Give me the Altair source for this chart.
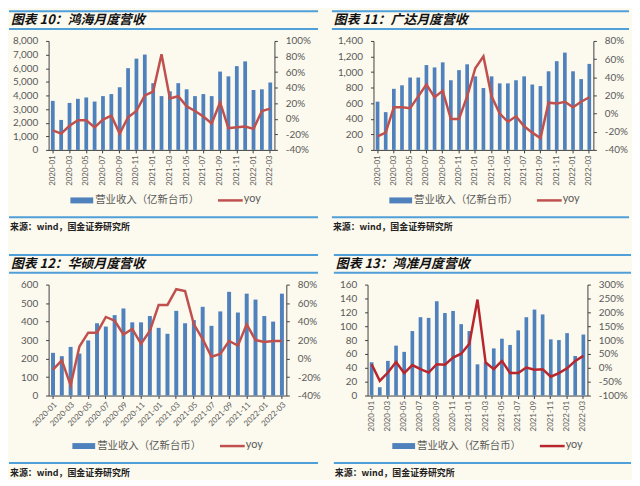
import altair as alt
import pandas as pd

months = ["2020-01", "2020-02", "2020-03", "2020-04", "2020-05", "2020-06", "2020-07",
          "2020-08", "2020-09", "2020-10", "2020-11", "2020-12", "2021-01", "2021-02",
          "2021-03", "2021-04", "2021-05", "2021-06", "2021-07", "2021-08", "2021-09",
          "2021-10", "2021-11", "2021-12", "2022-01", "2022-02", "2022-03"]
tick_months = ["2020-01", "2020-03", "2020-05", "2020-07", "2020-09", "2020-11", "2021-01",
               "2021-03", "2021-05", "2021-07", "2021-09", "2021-11", "2022-01", "2022-03"]

titles = ["图表 10：鸿海月度营收", "图表 11：广达月度营收", "图表 12：华硕月度营收", "图表 13：鸿准月度营收"]
legend_rev = "营业收入（亿新台币）"
legend_yoy = "yoy"
source_text = "来源：wind，国金证券研究所"

# 鸿海
hh_rev = [3600, 2200, 3450, 3750, 3850, 3550, 3950, 4100, 4600, 6000, 6700, 7000, 4900, 3950,
          4300, 4900, 4450, 3950, 4100, 3950, 5750, 5400, 6150, 6500, 4400, 4450, 4950]
hh_yoy = [-15, -19, -9, -2, -2, -11, -1, 4, -19, 2, 10, 30, 35, 83, 26, 29, 16, 10, 3, -6,
          21, -12, -11, -10, -13, 10, 13]
# 广达
gd_rev = [620, 485, 785, 830, 930, 930, 1090, 1060, 1125, 895, 1025, 1100, 945, 795, 945, 855,
          855, 895, 945, 840, 820, 1010, 1140, 1250, 1010, 910, 1105]
gd_yoy = [-25, -21, 7, 7, 6, 19, 32, 18, 25, -6, -6, 19, 50, 63, 19, 0, -9, -3, -14, -21, -27,
          12, 11, 13, 7, 13, 18]
# 华硕
hs_rev = [231, 213, 263, 227, 298, 391, 373, 435, 471, 396, 396, 430, 366, 334, 458, 391, 408,
          480, 377, 455, 561, 449, 551, 519, 430, 400, 551]
hs_yoy = [-12, -2, -29, 13, 28, 28, 45, 41, 26, 32, 16, 30, 58, 58, 75, 73, 37, 21, 2, 5, 19,
          14, 37, 20, 18, 19, 19]
# 鸿准
hz_rev = [48, 12, 50, 72, 63, 93, 113, 112, 136, 119, 122, 103, 93, 45, 48, 68, 82, 73, 94, 113,
          124, 117, 81, 80, 90, 57, 88]
hz_yoy = [13, -47, -17, 21, -19, 10, -5, -17, 13, 11, 37, 51, 87, 246, 19, -5, 25, -19, -19, 1,
          -7, -5, -32, -19, -2, 25, 43]

hh_left = [0, 1000, 2000, 3000, 4000, 5000, 6000, 7000, 8000]
hh_right = [-40, -20, 0, 20, 40, 60, 80, 100]
gd_left = [0, 200, 400, 600, 800, 1000, 1200, 1400]
gd_right = [-40, -20, 0, 20, 40, 60, 80]
hs_left = [0, 100, 200, 300, 400, 500, 600]
hs_right = [-40, -20, 0, 20, 40, 60, 80]
hz_left = [0, 20, 40, 60, 80, 100, 120, 140, 160]
hz_right = [-100, -50, 0, 50, 100, 150, 200, 250, 300]

CJK = "Noto Sans CJK SC"
NUM = "Lato"
BLUE = "#4f81bd"
RED = "#c0504d"
RED_DARK = "#b9252c"
RULE = "#4f9fd9"
BG = "#fcf9ee"
GRAY = "#595959"
AXC = "#404040"


def panel(title, rev, yoy, left_vals, right_vals, left_fmt, W, H, L, boxW, angle,
          line_color, leg_x):
    df = pd.DataFrame({"month": months, "rev": rev, "yoy": yoy})
    base = alt.Chart(df)
    xenc = alt.X(
        "month:N", sort=months,
        scale=alt.Scale(paddingInner=0.55, paddingOuter=0.275),
        axis=alt.Axis(values=tick_months, labelAngle=angle, title=None, labelFontSize=8,
                      tickSize=3, labelPadding=2, labelOverlap=False, labelFont=NUM,
                      labelColor=GRAY, domainColor=AXC, tickColor=AXC),
    )
    bars = base.mark_bar(color=BLUE).encode(
        x=xenc,
        y=alt.Y("rev:Q",
                scale=alt.Scale(domain=[left_vals[0], left_vals[-1]], nice=False, zero=True),
                axis=alt.Axis(orient="left", values=left_vals, format=left_fmt, title=None,
                              grid=False, tickSize=3, labelPadding=8, labelFont=NUM,
                              labelFontSize=10, labelColor=GRAY, domainColor=AXC,
                              tickColor=AXC)),
    )
    line = base.mark_line(color=line_color, strokeWidth=2.5).encode(
        x=xenc,
        y=alt.Y("yoy:Q",
                scale=alt.Scale(domain=[right_vals[0], right_vals[-1]], nice=False, zero=False),
                axis=alt.Axis(orient="right", values=right_vals,
                              labelExpr="datum.value + '%'", title=None, grid=False,
                              tickSize=3, labelPadding=8, labelFont=NUM, labelFontSize=10,
                              labelColor=GRAY, domainColor=AXC, tickColor=AXC)),
    )
    deco = alt.Chart(pd.DataFrame({"k": [0]}))
    top_rule = deco.mark_rule(color=RULE, strokeWidth=2).encode(
        x=alt.value(-L), x2=alt.value(boxW - L), y=alt.value(-30))
    mid_rule = deco.mark_rule(color=RULE, strokeWidth=2).encode(
        x=alt.value(-L), x2=alt.value(boxW - L), y=alt.value(-12))
    title_t = deco.mark_text(text=title, align="left", baseline="middle", font=CJK,
                             fontSize=13, fontWeight="bold", fontStyle="italic",
                             color="#111111").encode(x=alt.value(-L + 2), y=alt.value(-21))
    leg_rect = deco.mark_rect(color=BLUE).encode(
        x=alt.value(leg_x), x2=alt.value(leg_x + 23), y=alt.value(H + 48), y2=alt.value(H + 54))
    leg_t1 = deco.mark_text(text=legend_rev, align="left", baseline="middle", font=CJK,
                            fontSize=10.5, color=GRAY).encode(
        x=alt.value(leg_x + 25), y=alt.value(H + 51))
    leg_line = deco.mark_rule(color=line_color, strokeWidth=2.5).encode(
        x=alt.value(leg_x + 149), x2=alt.value(leg_x + 174), y=alt.value(H + 51))
    leg_t2 = deco.mark_text(text=legend_yoy, align="left", baseline="middle", font=NUM,
                            fontSize=11, color=GRAY).encode(
        x=alt.value(leg_x + 175), y=alt.value(H + 50))
    sep_rule = deco.mark_rule(color=RULE, strokeWidth=2).encode(
        x=alt.value(-L), x2=alt.value(boxW - L), y=alt.value(H + 68))
    src_t = deco.mark_text(text=source_text, align="left", baseline="middle", font=CJK,
                           fontSize=9, fontWeight="bold", color="#222222").encode(
        x=alt.value(-L + 1), y=alt.value(H + 78))
    return alt.layer(bars, line, top_rule, mid_rule, title_t, leg_rect, leg_t1, leg_line,
                     leg_t2, sep_rule, src_t).resolve_scale(y="independent").properties(
        width=W, height=H)


p1 = panel(titles[0], hh_rev, hh_yoy, hh_left, hh_right, ",d", 228, 110, 40, 312, -90, RED, 22)
p2 = panel(titles[1], gd_rev, gd_yoy, gd_left, gd_right, ",d", 222, 110, 42, 300, -90, RED, 16)
p3 = panel(titles[2], hs_rev, hs_yoy, hs_left, hs_right, "d", 240, 112, 40, 312, -45, RED, 24)
p4 = panel(titles[3], hz_rev, hz_yoy, hz_left, hz_right, "d", 222, 112, 34, 300, -90, RED_DARK, 25)

top = alt.hconcat(p1, p2, spacing=12)
bottom = alt.hconcat(p3, p4, spacing=12)
chart = alt.vconcat(top, bottom, spacing=22).properties(
    padding={"left": 0, "top": 0, "right": 0, "bottom": 0}
).configure(background=BG).configure_view(stroke=None)

chart.save("out.html", embed_options={"renderer": "svg", "actions": False})
